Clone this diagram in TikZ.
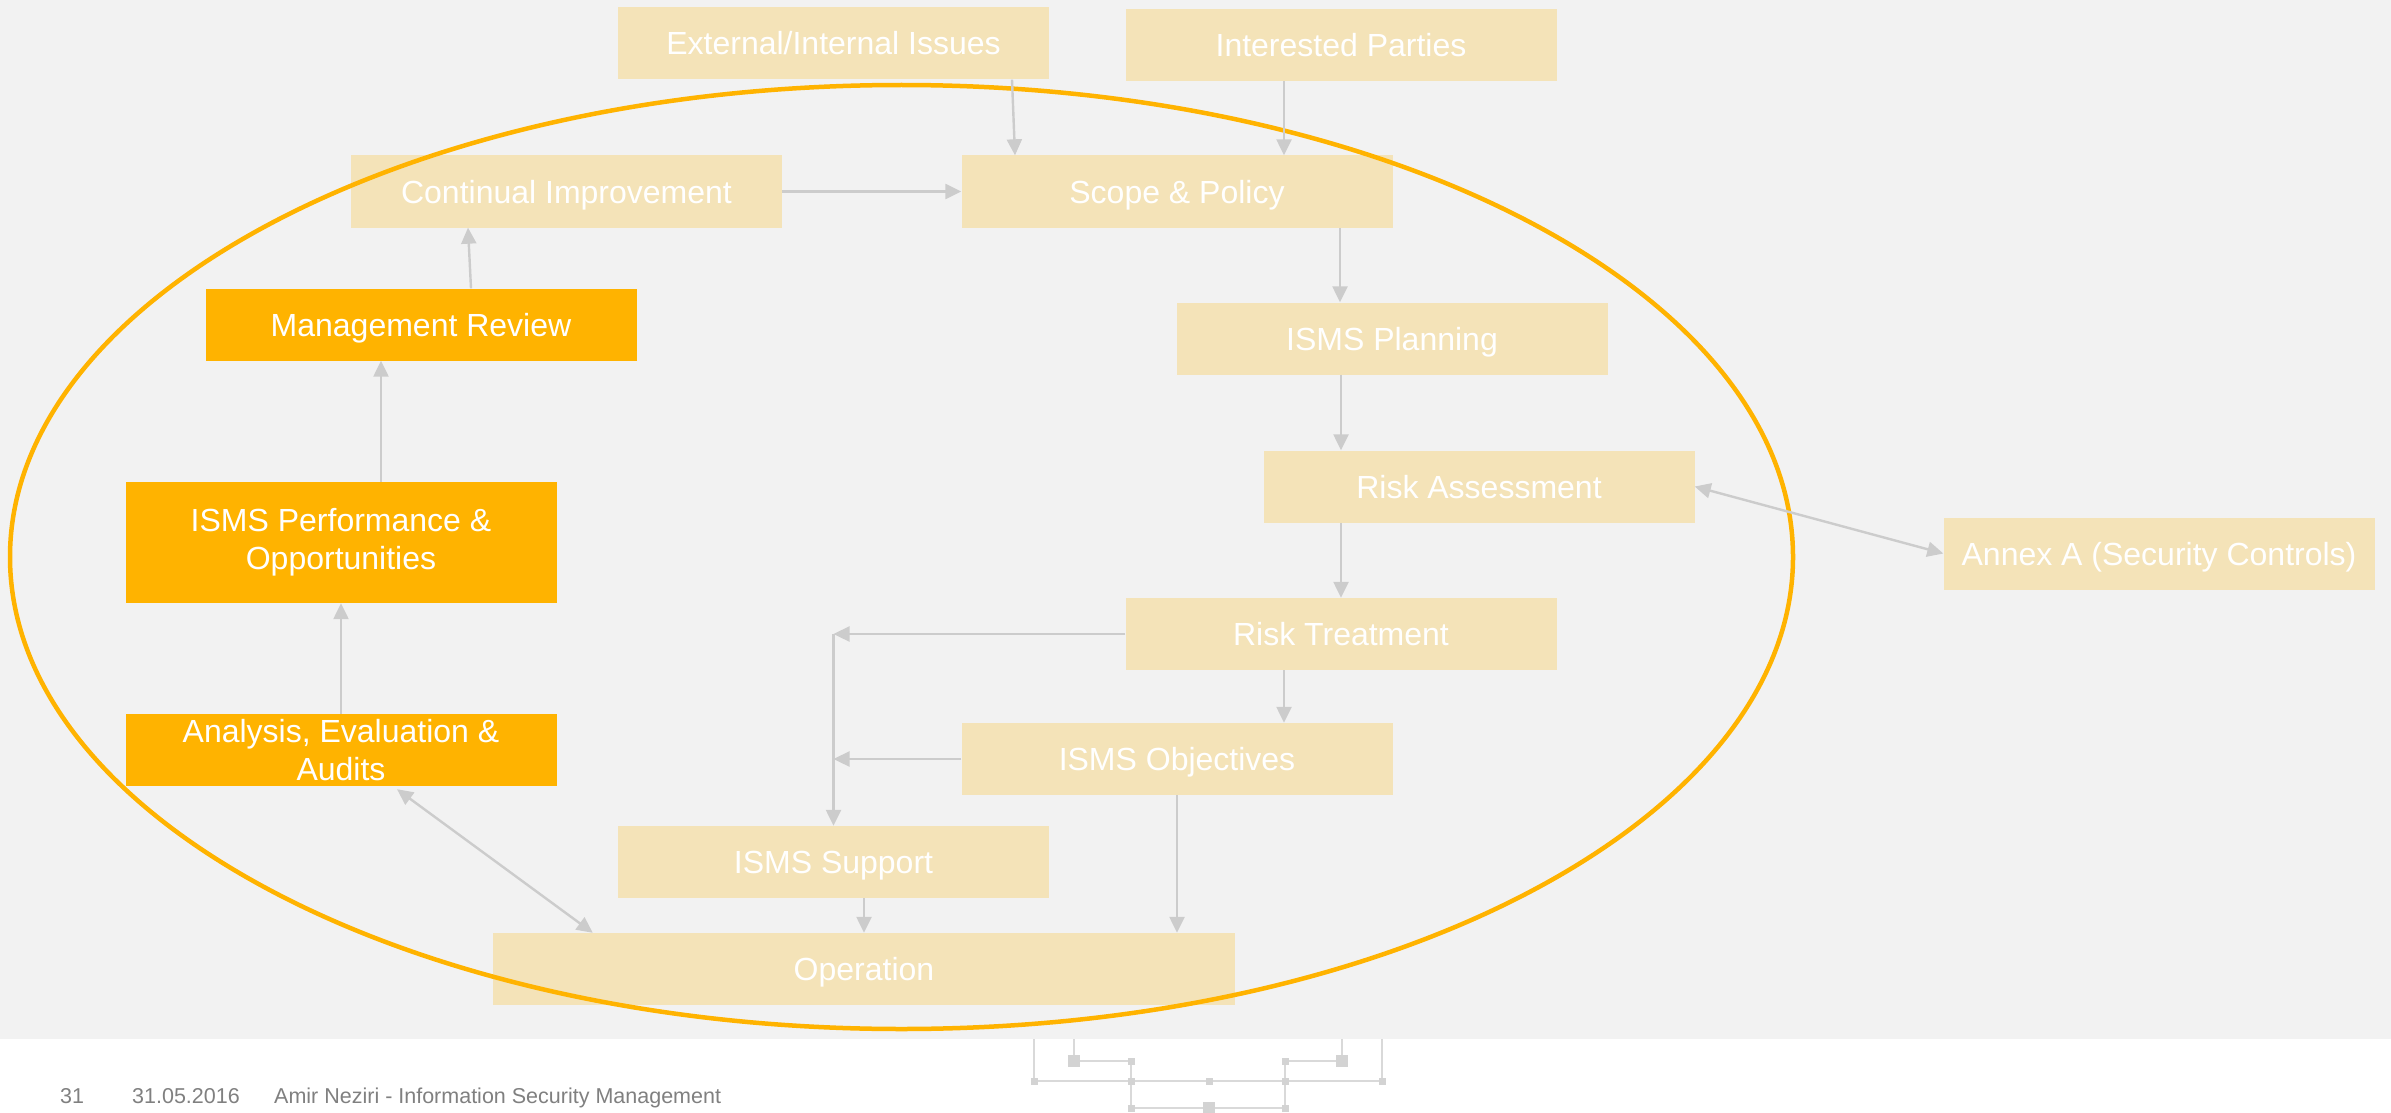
\documentclass[tikz,border=0pt]{standalone}
\usepackage{fontspec}
\setmainfont{Liberation Sans}
\usetikzlibrary{arrows.meta,calc}
\definecolor{pagegray}{HTML}{F2F2F2}
\definecolor{boxlight}{HTML}{F4E3B8}
\definecolor{boxorange}{HTML}{FFB300}
\definecolor{ringcol}{HTML}{FFB300}
\definecolor{conncol}{HTML}{CCCCCC}
\definecolor{wirecol}{HTML}{D9D9D9}
\definecolor{padcol}{HTML}{D3D3D3}
\definecolor{footcol}{HTML}{808080}

\begin{document}
\begin{tikzpicture}[x=1pt,y=-1pt,
  box/.style={rectangle, inner sep=0pt, text=white,
    font=\fontsize{32}{38.4}\selectfont, minimum width=431pt, minimum height=72pt},
  oneline/.style={text height=23pt, text depth=0pt},
  lbox/.style={box, oneline, fill=boxlight},
  obox/.style={box, fill=boxorange},
  conn/.style={draw=conncol, line width=2.4pt, -{Triangle[length=16pt,width=15pt]}},
  biconn/.style={draw=conncol, line width=2.4pt,
    {Triangle[length=16pt,width=15pt]}-{Triangle[length=16pt,width=15pt]}},
  wire/.style={draw=wirecol, line width=1.4pt},
  pad/.style={fill=padcol},
  foot/.style={text=footcol, font=\fontsize{21.5}{25}\selectfont, inner sep=0pt, anchor=base west}
]
\useasboundingbox (0,0) rectangle (2391,1113);
\fill[white] (0,0) rectangle (2391,1113);
\fill[pagegray] (0,0) rectangle (2391,1039);

% circuit ornament below the slide area
\draw[wire] (1034,1039) -- (1034,1081) -- (1382,1081) -- (1382,1039);
\draw[wire] (1074,1039) -- (1074,1061) -- (1131,1061) -- (1131,1108) -- (1285,1108)
  -- (1285,1061) -- (1342,1061) -- (1342,1039);
\foreach \x/\y in {1034/1081,1131/1081,1209/1081,1285/1081,1382/1081,
                   1131/1061,1285/1061,1131/1108,1285/1108}
  \fill[pad] (\x-3.5,\y-3.5) rectangle (\x+3.5,\y+3.5);
\foreach \x/\y in {1074/1061,1342/1061,1209/1108}
  \fill[pad] (\x-6,\y-6) rectangle (\x+6,\y+6);

% process boxes
\node[lbox] (ext) at (833.5,43.5) {External/Internal Issues};
\node[lbox] (int) at (1341,45) {Interested Parties};
\node[lbox] (ci) at (566.5,191.5) {Continual Improvement};
\node[lbox] (sp) at (1177,191.5) {Scope \& Policy};
\node[obox, oneline] (mr) at (421,324.5) {Management Review};
\node[lbox] (pl) at (1392,338.5) {ISMS Planning};
\node[lbox] (ra) at (1479,486.5) {Risk Assessment};
\node[obox, minimum height=121pt, align=center] (perf) at (341,542.5)
  {ISMS Performance \&\\Opportunities};
\node[lbox] (annex) at (2159,553.5) {Annex A (Security Controls)};
\node[lbox] (rt) at (1341,634) {Risk Treatment};
\node[lbox] (obj) at (1177,759) {ISMS Objectives};
\node[obox, align=center] (an) at (341,750) {Analysis, Evaluation \&\\Audits};
\node[lbox] (sup) at (833.5,862) {ISMS Support};
\node[lbox, minimum width=742pt] (op) at (864,969) {Operation};

% PDCA ring
\draw[ringcol, line width=4.5pt] (901.5,557) ellipse [x radius=891.5, y radius=472];

% connectors
\draw[conn] ($(ext.south)+(178.5,0)$) -- ($(sp.north)+(-162,0)$);
\draw[conn] ($(int.south)+(-57,0)$) -- ($(sp.north)+(107,0)$);
\draw[conn] (ci.east) -- (sp.west);
\coordinate (spout) at ($(sp.south)+(163,0)$);
\draw[conn] (spout) -- (spout |- pl.north);
\coordinate (plout) at ($(pl.south)+(-51,0)$);
\draw[conn] (plout) -- (plout |- ra.north);
\draw[biconn] (ra.east) -- (annex.west);
\draw[conn] (ra.south -| rt.north) -- (rt.north);
\coordinate (bend) at (rt.west -| sup.north);
\draw[conn] (rt.west) -- (bend);
\draw[conn] (bend) -- (sup.north);
\draw[conn] (obj.west) -- (obj.west -| sup.north);
\coordinate (rtout) at ($(rt.south)+(-57,0)$);
\draw[conn] (rtout) -- (rtout |- obj.north);
\draw[conn] (obj.south) -- (obj.south |- op.north);
\draw[conn] (sup.south -| op.north) -- (op.north);
\draw[conn] ($(mr.north)+(50,0)$) -- ($(ci.south)+(-98.5,0)$);
\draw[conn] ($(perf.north)+(40,0)$) -- ($(mr.south)+(-40,0)$);
\draw[conn] (an.north) -- (perf.south);
\draw[biconn] ($(an.south)+(56,3)$) -- ($(op.north west)+(100,0)$);

% footer
\node[foot] (pg) at (60,1103) {31};
\node[foot] (date) at (132,1103) {31.05.2016};
\node[foot] (title) at (274,1103) {Amir Neziri - Information Security Management};
\end{tikzpicture}
\end{document}
